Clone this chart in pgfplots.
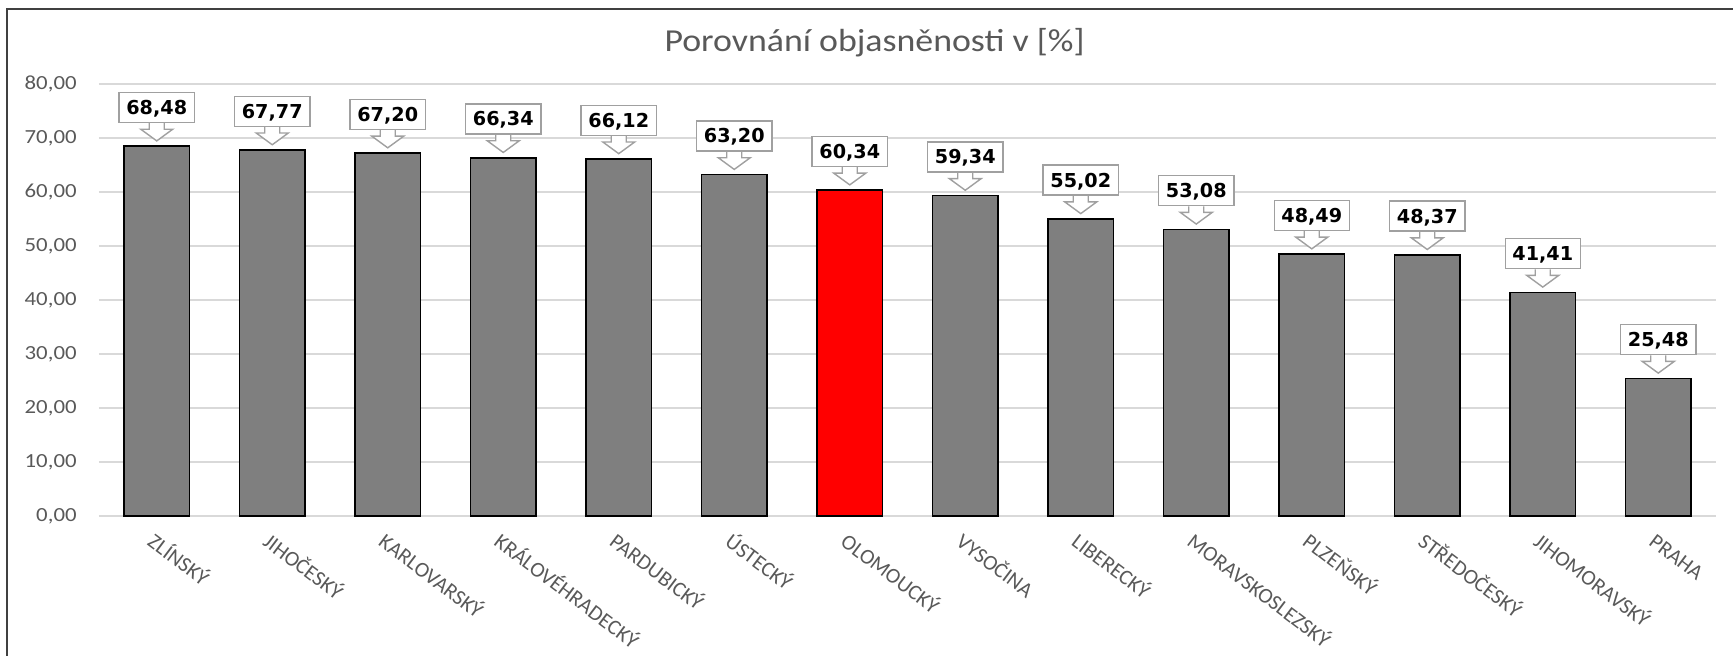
\documentclass[border=0pt]{standalone}
\usepackage{fontspec}
\setmainfont{Carlito}[FakeStretch=1.14]
\newfontfamily\titlefont{Carlito}[FakeStretch=1.12]
\newfontfamily\xfont{Carlito}
\newfontfamily\lblfont{DejaVu Sans}
\usepackage{pgfplots}
\pgfplotsset{compat=1.18}
\definecolor{txtgray}{HTML}{595959}
\definecolor{gridgray}{HTML}{D9D9D9}
\definecolor{bargray}{HTML}{7F7F7F}
\definecolor{callgray}{HTML}{A0A0A0}
\definecolor{framegray}{HTML}{404040}
\definecolor{hired}{HTML}{FF0000}

\tikzset{
 callout/.style={
  draw=callgray, line width=0.7pt, fill=white, text=black,
  font=\lblfont\bfseries\fontsize{9.6}{11}\selectfont,
  inner xsep=3.6pt, inner ysep=0pt, text height=6.9pt, text depth=0pt,
  minimum height=15pt,
  anchor=south, yshift=11.5pt,
  append after command={\pgfextra{%
    \path[fill=white, draw=none] ([xshift=-3.75pt,yshift=0.6pt]\tikzlastnode.south) -- ([xshift=-3.75pt,yshift=-3pt]\tikzlastnode.south) -- ([xshift=-8pt,yshift=-3pt]\tikzlastnode.south) -- ([yshift=-8.85pt]\tikzlastnode.south) -- ([xshift=8pt,yshift=-3pt]\tikzlastnode.south) -- ([xshift=3.75pt,yshift=-3pt]\tikzlastnode.south) -- ([xshift=3.75pt,yshift=0.6pt]\tikzlastnode.south) -- cycle;
    \path[draw=callgray, fill=none, line width=0.7pt, line join=miter] ([xshift=-3.75pt]\tikzlastnode.south) -- ([xshift=-3.75pt,yshift=-3pt]\tikzlastnode.south) -- ([xshift=-8pt,yshift=-3pt]\tikzlastnode.south) -- ([yshift=-8.85pt]\tikzlastnode.south) -- ([xshift=8pt,yshift=-3pt]\tikzlastnode.south) -- ([xshift=3.75pt,yshift=-3pt]\tikzlastnode.south) -- ([xshift=3.75pt]\tikzlastnode.south);
  }}
 }
}

\begin{document}
\begin{tikzpicture}
\path[use as bounding box] (-49.5pt,-70pt) rectangle (817pt,258pt);
\begin{axis}[
  at={(0,0)}, anchor=south west,
  scale only axis, width=808.5pt, height=216pt,
  ybar, bar width=32.6pt, bar shift=0pt,
  xmin=-0.5, xmax=13.5, ymin=0, ymax=80,
  ytick={0,10,...,80},
  xtick={0,...,13},
  xticklabels={ZLÍNSKÝ,JIHOČESKÝ,KARLOVARSKÝ,KRÁLOVÉHRADECKÝ,PARDUBICKÝ,ÚSTECKÝ,OLOMOUCKÝ,VYSOČINA,LIBERECKÝ,MORAVSKOSLEZSKÝ,PLZEŇSKÝ,STŘEDOČESKÝ,JIHOMORAVSKÝ,PRAHA},
  axis line style={draw=none},
  major tick length=0pt,
  ymajorgrids, grid style={gridgray, line width=0.75pt},
  /pgf/number format/assume math mode=true,
  yticklabel={\pgfmathprintnumber[fixed,fixed zerofill,precision=2,use comma]{\tick}},
  yticklabel style={font=\fontsize{10}{12}\selectfont, text=txtgray, anchor=east, inner sep=0pt, xshift=-11pt},
  xticklabel style={font=\xfont\fontsize{10.7}{12}\selectfont, text=txtgray, inner sep=0pt, text height=7pt, xshift=-1pt, yshift=-8.5pt, anchor=north west, rotate=-37},
  nodes near coords={\pgfmathprintnumber[fixed,fixed zerofill,precision=2,use comma]{\pgfplotspointmeta}},
  every node near coord/.append style={callout},
  clip=false,
]
\addplot[fill=bargray, draw=black, line width=0.75pt] coordinates {
 (0,68.48) (1,67.77) (2,67.20) (3,66.34) (4,66.12) (5,63.20)
 (7,59.34) (8,55.02) (9,53.08) (10,48.49) (11,48.37) (12,41.41) (13,25.48)};
\addplot[fill=hired, draw=black, line width=0.75pt] coordinates {(6,60.34)};
\end{axis}
\node[font=\titlefont\fontsize{16}{19}\selectfont, text=txtgray, anchor=base] at (387.8pt,232.2pt) {Porovnání objasněnosti v [\%]};
\draw[framegray, line width=1pt] (-45.8pt,-75pt) -- (-45.8pt,253.5pt) -- (830pt,253.5pt);
\end{tikzpicture}
\end{document}
